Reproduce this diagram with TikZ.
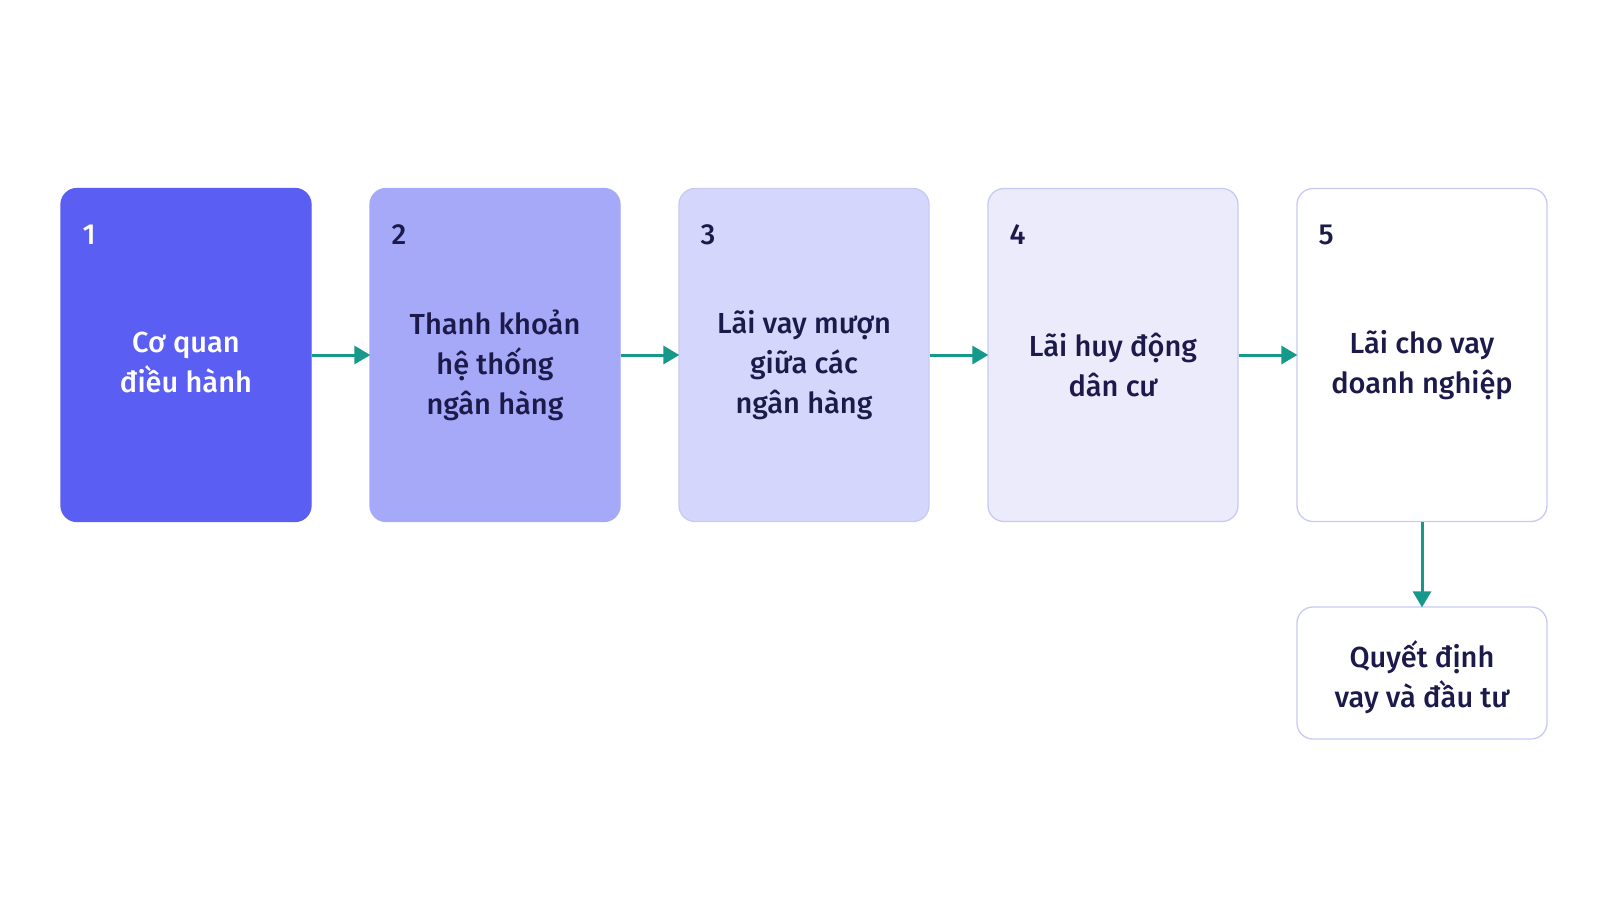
\documentclass[tikz,border=0pt]{standalone}
\usepackage{fontspec}
\setmainfont{Fira Sans}[UprightFont=* Medium, BoldFont=* SemiBold]
\usetikzlibrary{arrows.meta}
\definecolor{cA}{HTML}{5A5EF2}
\definecolor{cB}{HTML}{A6A9F8}
\definecolor{cC}{HTML}{D5D6FB}
\definecolor{cD}{HTML}{EBEBFC}
\definecolor{bordL}{HTML}{C9CAF3}
\definecolor{txt}{HTML}{1C1A4A}
\definecolor{teal}{HTML}{16998A}
\tikzset{
  card/.style={rounded corners=16pt, minimum width=250pt, minimum height=333pt, line width=1.3pt, inner sep=0pt},
  lbl/.style={font=\fontsize{29}{40}\selectfont, text=txt, align=center},
  num/.style={font=\fontsize{29}{30}\selectfont, text=txt, anchor=west},
  flow/.style={draw=teal, line width=3pt, -{Triangle[length=16pt,width=18pt]}, shorten >=-1pt}
}
\begin{document}
\begin{tikzpicture}[x=1pt,y=-1pt]
\useasboundingbox[fill=white] (0,0) rectangle (1600,900);
\node[card, fill=cA, draw=cA] (b1) at (186,355) {};
\node[card, fill=cB, draw=cB] (b2) at (495,355) {};
\node[card, fill=cC, draw=bordL] (b3) at (804,355) {};
\node[card, fill=cD, draw=bordL] (b4) at (1113,355) {};
\node[card, fill=white, draw=bordL] (b5) at (1422,355) {};
\node[rounded corners=16pt, minimum width=250pt, minimum height=132pt, line width=1.3pt, draw=bordL, fill=white, inner sep=0pt] (b6) at (1422,673) {};
\node[num, text=white] (n1) at (79,235) {1};
\node[num] (n2) at (388,235) {2};
\node[num] (n3) at (697,235) {3};
\node[num] (n4) at (1006,235) {4};
\node[num] (n5) at (1315,235) {5};
\node[lbl, text=white] (t1) at ([yshift=-7pt]b1.center) {Cơ quan\\điều hành};
\node[lbl] (t2) at ([yshift=-10pt]b2.center) {Thanh khoản\\hệ thống\\ngân hàng};
\node[lbl] (t3) at ([yshift=-10pt]b3.center) {Lãi vay mượn\\giữa các\\ngân hàng};
\node[lbl] (t4) at ([yshift=-10pt]b4.center) {Lãi huy động\\dân cư};
\node[lbl] (t5) at ([yshift=-10pt]b5.center) {Lãi cho vay\\doanh nghiệp};
\node[lbl] (t6) at ([yshift=-4pt]b6.center) {Quyết định\\vay và đầu tư};
\draw[flow] (b1.east) -- (b2.west);
\draw[flow] (b2.east) -- (b3.west);
\draw[flow] (b3.east) -- (b4.west);
\draw[flow] (b4.east) -- (b5.west);
\draw[flow] (b5.south) -- (b6.north);
\end{tikzpicture}
\end{document}
